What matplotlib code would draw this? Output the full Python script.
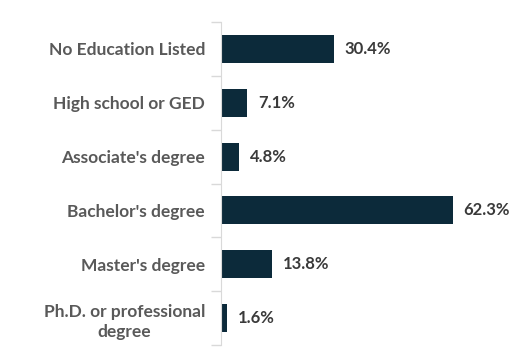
import matplotlib
matplotlib.use('Agg')
import matplotlib.pyplot as plt
from matplotlib.ticker import FixedLocator, NullFormatter

categories = ["No Education Listed", "High school or GED", "Associate's degree",
              "Bachelor's degree", "Master's degree", "Ph.D. or professional\ndegree"]
values = [30.4, 7.1, 4.8, 62.3, 13.8, 1.6]

bar_color = '#0c2a3a'
plt.rcParams['font.family'] = ['Lato', 'DejaVu Sans']

fig = plt.figure(figsize=(5.29, 3.64), dpi=100)
ax = fig.add_axes([221 / 529, 19 / 364, 308 / 529, 323 / 364])

y = list(range(len(categories)))
ax.barh(y, values, height=0.52, color=bar_color)
for yi, v in zip(y, values):
    ax.text(v + 2.9, yi, f"{v}%", va='center', ha='left',
            fontsize=12, fontweight='bold', color='#3a3a3a')

ax.set_xlim(0, 82.8)
ax.set_ylim(len(categories) - 0.5, -0.5)
ax.set_yticks(y)
labels = ax.set_yticklabels(categories, fontsize=12.5, fontweight='bold', color='#595959',
                            linespacing=1.35)
for lab in labels:
    lab.set_multialignment('center')
ax.tick_params(axis='y', which='major', length=0, pad=11.5)
ax.yaxis.set_minor_locator(FixedLocator([i - 0.5 for i in range(len(categories) + 1)]))
ax.yaxis.set_minor_formatter(NullFormatter())
ax.tick_params(axis='y', which='minor', length=7, color='#d9d9d9', width=1)
ax.set_xticks([])
for s in ['top', 'right', 'bottom']:
    ax.spines[s].set_visible(False)
ax.spines['left'].set_color('#d9d9d9')

fig.savefig('out.png', dpi=100)
